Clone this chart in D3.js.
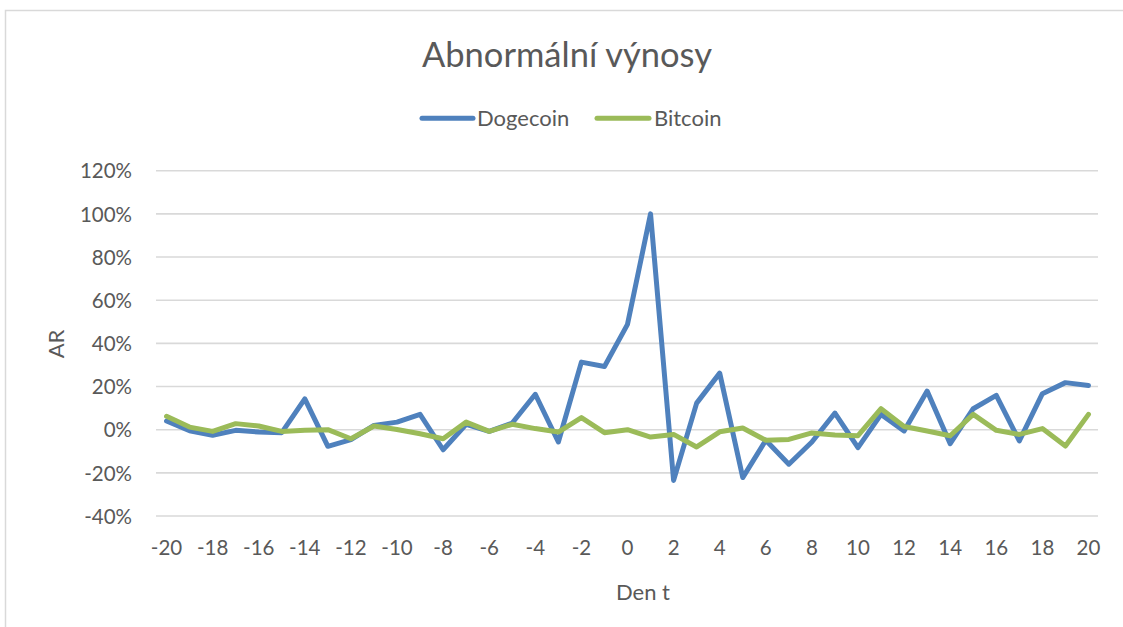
<!DOCTYPE html>
<html><head><meta charset="utf-8">
<script src="https://cdn.jsdelivr.net/npm/d3@7"></script>
<style>html,body{margin:0;padding:0;background:#fff}svg{display:block}</style>
</head><body>
<svg id="c" width="1123" height="627"></svg>
<script>
const days = d3.range(-20, 21);
const dogecoin = [4.0,-0.5,-2.6,-0.3,-1.1,-1.4,14.3,-7.7,-4.6,2.0,3.5,7.1,-9.3,2.5,-0.8,3.1,16.4,-5.7,31.3,29.3,48.8,100,-23.5,12.3,26.2,-22.2,-4.9,-16.0,-5.7,7.7,-8.3,7.1,-0.6,17.9,-6.5,9.7,15.9,-5.2,16.7,21.8,20.5];
const bitcoin = [6.2,1.2,-0.8,2.8,1.7,-0.8,-0.3,0.0,-4.2,1.7,0.1,-1.9,-4.2,3.5,-0.8,2.5,0.5,-1.1,5.6,-1.4,0.0,-3.4,-2.2,-8.0,-1.0,0.8,-4.9,-4.5,-1.5,-2.5,-2.8,9.7,1.5,-0.6,-2.8,7.1,-0.3,-2.2,0.5,-7.6,7.1];
const yTicks = [-40,-20,0,20,40,60,80,100,120];
const xTickLabels = days.filter(d => d % 2 === 0);
const seriesNames = ["Dogecoin","Bitcoin"];
const colors = ["#4f81bd","#9bbb59"];

const svg = d3.select("#c");
const font = "Lato, 'Open Sans', sans-serif";
const txt = "#595959";

// frame
svg.append("rect").attr("x",5.5).attr("y",10.5).attr("width",1130).attr("height",640)
  .attr("fill","none").attr("stroke","#d9d9d9").attr("stroke-width",1.5);

const x = d3.scaleBand().domain(days).range([155,1100]).padding(0);
const xc = d => x(d) + x.bandwidth()/2;
const y = d3.scaleLinear().domain([-40,120]).range([516,170.7]);

// gridlines
svg.append("g").selectAll("line").data(yTicks).join("line")
  .attr("x1",156).attr("x2",1098).attr("y1",d=>y(d)).attr("y2",d=>y(d))
  .attr("stroke","#d9d9d9").attr("stroke-width",1.6);

// y axis labels
const yAxis = d3.axisLeft(y).tickValues(yTicks).tickFormat(d=>d+"%").tickSize(0).tickPadding(0);
const gy = svg.append("g").attr("transform","translate(132,0)").call(yAxis);
gy.select(".domain").remove();
gy.selectAll("text").attr("font-family",font).attr("font-size",20.5).attr("fill",txt).attr("dy","0.35em");

// x axis labels
const xAxis = d3.axisBottom(x).tickValues(xTickLabels).tickSize(0).tickPadding(0);
const gx = svg.append("g").attr("transform","translate(0,540)").call(xAxis);
gx.select(".domain").remove();
gx.selectAll("text").attr("font-family",font).attr("font-size",20.5).attr("fill",txt).attr("dy","0.72em");

// lines
const line = d3.line().x((d,i)=>xc(days[i])).y(d=>y(d));
[dogecoin, bitcoin].forEach((s,k)=>{
  svg.append("path").datum(s).attr("d",line).attr("fill","none")
    .attr("stroke",colors[k]).attr("stroke-width",5)
    .attr("stroke-linejoin","round").attr("stroke-linecap","round");
});

// title
svg.append("text").attr("x",567).attr("y",66.5).attr("text-anchor","middle")
  .attr("font-family",font).attr("font-size",34.5).attr("fill",txt).text("Abnormální výnosy");

// legend
const leg = [{x1:422,x2:473,tx:477},{x1:597,x2:649,tx:654}];
seriesNames.forEach((n,k)=>{
  svg.append("line").attr("x1",leg[k].x1).attr("x2",leg[k].x2).attr("y1",118.3).attr("y2",118.3)
    .attr("stroke",colors[k]).attr("stroke-width",5).attr("stroke-linecap","round");
  svg.append("text").attr("x",leg[k].tx).attr("y",126).attr("font-family",font).attr("font-size",22)
    .attr("fill",txt).text(n);
});

// axis titles
svg.append("text").attr("transform","translate(64,344) rotate(-90)").attr("text-anchor","middle")
  .attr("font-family",font).attr("font-size",22).attr("fill",txt).text("AR");
svg.append("text").attr("x",643).attr("y",600).attr("text-anchor","middle")
  .attr("font-family",font).attr("font-size",22).attr("fill",txt).text("Den t");
</script>
</body></html>
